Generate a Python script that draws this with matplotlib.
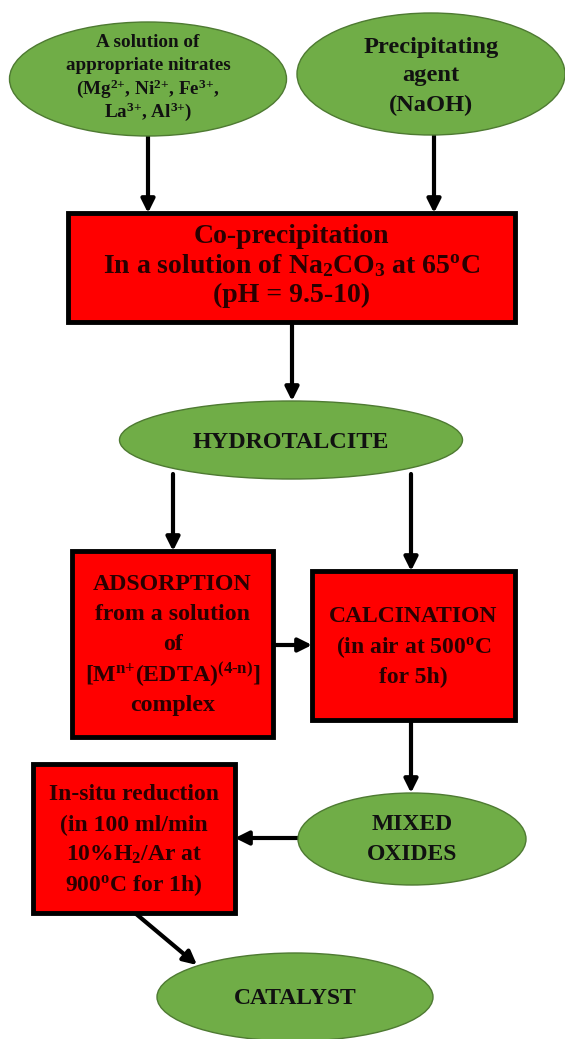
import matplotlib
matplotlib.use("Agg")
import matplotlib.pyplot as plt
from matplotlib.patches import Ellipse, Rectangle

plt.rcParams['mathtext.fontset'] = 'custom'
plt.rcParams['mathtext.rm'] = 'Liberation Serif:bold'
plt.rcParams['mathtext.it'] = 'Liberation Serif:bold'
plt.rcParams['mathtext.bf'] = 'Liberation Serif:bold'
plt.rcParams['font.family'] = ['Liberation Serif', 'DejaVu Serif']

GREEN = '#70AD47'
GREEN_EDGE = '#4E7A32'
RED = '#FF0000'
TXT_RED = '#2A0000'

# Ellipse nodes: (label lines, center x, center y, width, height, fontsize, line spacing, text center y)
ellipse_nodes = [
    (["A solution of", "appropriate nitrates",
      r"(Mg$^{2{+}}$, Ni$^{2{+}}$, Fe$^{3{+}}$,", r"La$^{3{+}}$, Al$^{3{+}}$)"],
     148, 79, 277, 114, 13.8, 23, 77),
    (["Precipitating", "agent", "(NaOH)"],
     431, 74, 268, 122, 17.6, 29, 76),
    (["HYDROTALCITE"], 291, 440, 343, 78, 17.4, 30, 443),
    (["MIXED", "OXIDES"], 412, 839, 228, 92, 17.0, 30, 840),
    (["CATALYST"], 295, 997, 276, 88, 17.0, 30, 998),
]

# Box nodes: (label lines, left, top, width, height, fontsize, line spacing, text center y)
box_nodes = [
    (["Co-precipitation", r"In a solution of Na$_2$CO$_3$ at 65$^{o}$C",
      "(pH = 9.5-10)"],
     68, 213, 447, 109, 20, 29.5, 266),
    (["ADSORPTION", "from a solution", "of",
      r"[M$^{n{+}}$(EDTA)$^{(4\text{-}n)}$]", "complex"],
     72, 551, 201, 186, 17.2, 30, 645),
    (["CALCINATION", r"(in air at 500$^{o}$C", "for 5h)"],
     312, 571, 203, 149, 17.0, 30, 647),
    (["In-situ reduction", "(in 100 ml/min", r"10%H$_2$/Ar at",
      r"900$^{o}$C for 1h)"],
     33, 764, 202, 149, 17.0, 30, 840),
]

arrows = [
    ((148, 135), (148, 213)),
    ((434, 135), (434, 213)),
    ((292, 322), (292, 401)),
    ((173, 474), (173, 551)),
    ((411, 474), (411, 571)),
    ((273, 645), (312, 645)),
    ((411, 720), (411, 793)),
    ((298, 838), (235, 838)),
    ((135, 913), (197, 965)),
]

fig = plt.figure(figsize=(5.65, 10.39), dpi=100)
ax = fig.add_axes([0, 0, 1, 1])
ax.set_xlim(0, 565)
ax.set_ylim(1039, 0)
ax.axis('off')

for (s, e) in arrows:
    ax.annotate('', xy=e, xytext=s,
                arrowprops=dict(arrowstyle='-|>', color='black', lw=3.0,
                                mutation_scale=20, shrinkA=0, shrinkB=0),
                zorder=1)

for lines, cx, cy, w, h, fs, lsp, ty in ellipse_nodes:
    ax.add_patch(Ellipse((cx, cy), w, h, facecolor=GREEN,
                         edgecolor=GREEN_EDGE, lw=1.0, zorder=2))
    n = len(lines)
    for i, t in enumerate(lines):
        y = ty + (i - (n - 1) / 2) * lsp
        ax.text(cx, y, t, ha='center', va='center', fontsize=fs,
                fontweight='bold', color='#111111', zorder=3)

for lines, x0, y0, w, h, fs, lsp, ty in box_nodes:
    ax.add_patch(Rectangle((x0, y0), w, h, facecolor=RED,
                           edgecolor='black', lw=3.5, zorder=2))
    cx = x0 + w / 2
    n = len(lines)
    for i, t in enumerate(lines):
        y = ty + (i - (n - 1) / 2) * lsp
        ax.text(cx, y, t, ha='center', va='center', fontsize=fs,
                fontweight='bold', color=TXT_RED, zorder=3)

fig.savefig('out.png', dpi=100)
